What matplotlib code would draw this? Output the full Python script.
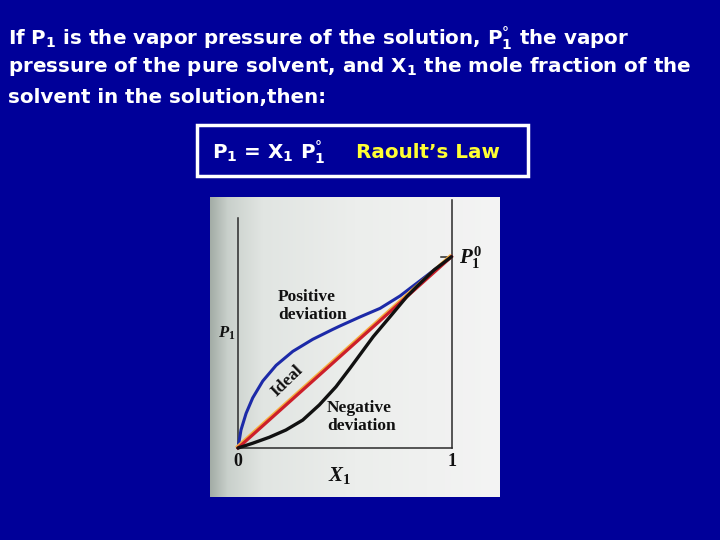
import numpy as np
import matplotlib
matplotlib.use("Agg")
import matplotlib.pyplot as plt
from matplotlib.patches import Rectangle
from matplotlib.colors import LinearSegmentedColormap
import matplotlib.transforms as mtrans

plt.rcParams['mathtext.fontset'] = 'custom'
plt.rcParams['mathtext.rm'] = 'DejaVu Sans:bold'
plt.rcParams['mathtext.it'] = 'Liberation Serif:italic:bold'
plt.rcParams['mathtext.bf'] = 'Liberation Serif:bold'

# ---- data (X1 vs P1/P1°) ----
pos_x = [0, 0.017, 0.046, 0.083, 0.138, 0.209, 0.295, 0.394, 0.49, 0.524, 0.615, 0.704, 0.79, 0.832, 0.875, 0.94, 1.0]
pos_y = [0, 0.094, 0.181, 0.262, 0.35, 0.432, 0.505, 0.568, 0.62, 0.638, 0.685, 0.73, 0.795, 0.835, 0.876, 0.94, 1.0]
neg_x = [0, 0.083, 0.173, 0.26, 0.345, 0.426, 0.505, 0.57, 0.674, 0.747, 0.818, 0.859, 0.93, 1.0]
neg_y = [0, 0.025, 0.056, 0.094, 0.146, 0.225, 0.32, 0.417, 0.582, 0.686, 0.791, 0.843, 0.93, 1.0]
ideal_x = [0, 1]
ideal_y = [0, 1]

BG = '#000099'
fig = plt.figure(figsize=(7.2, 5.4), dpi=100, facecolor=BG)

sans = 'DejaVu Sans'
serif = 'Liberation Serif'
HFS = 14.3

# ---- header text ----
hkw = dict(color='white', fontsize=HFS, fontweight='bold', family=sans, va='center', ha='left')
fig.text(8/720, 1 - 38/540, r"If P$_\mathregular{1}$ is the vapor pressure of the solution, P$_\mathregular{1}^\mathregular{°}$ the vapor", **hkw)
fig.text(8/720, 1 - 67/540, r"pressure of the pure solvent, and X$_\mathregular{1}$ the mole fraction of the", **hkw)
fig.text(8/720, 1 - 97/540, "solvent in the solution,then:", **hkw)

# ---- formula box ----
fig.patches.append(Rectangle((197/720, 1 - 176/540), (528-197)/720, (176-125)/540,
                             transform=fig.transFigure, facecolor='none',
                             edgecolor='white', linewidth=2.5))
fig.text(212/720, 1 - 152/540, r"P$_\mathregular{1}$ = X$_\mathregular{1}$ P$_\mathregular{1}^\mathregular{°}$", **hkw)
kw2 = dict(hkw); kw2['color'] = '#ffff33'
fig.text(356/720, 1 - 152/540, "Raoult\u2019s Law", **kw2)

# ---- inset (scanned figure) ----
L, R, T, B = 210, 500, 197, 497
rect = [L/720, 1 - B/540, (R-L)/720, (B-T)/540]

# paper background
axbg = fig.add_axes(rect, zorder=0)
axbg.axis('off')
grad = np.linspace(0, 1, 512)[None, :]
cm = LinearSegmentedColormap.from_list('paper', [(0, '#a3aca6'), (0.06, '#c9d0cb'), (0.18, '#e1e5e2'),
                                                 (0.5, '#eceeec'), (1.0, '#f4f4f4')])
axbg.imshow(grad, cmap=cm, aspect='auto', extent=[0, 1, 0, 1])
axbg.set_xlim(0, 1); axbg.set_ylim(0, 1)

ax = fig.add_axes(rect, zorder=1)
ax.patch.set_alpha(0)
ax.axis('off')

# the scanned page is warped near the binding: mimic with a mild non-linear x scale
A = 0.185
def fwd(x):
    x = np.asarray(x, dtype=float)
    return x - A * x * (1 - x)
def inv(u):
    u = np.asarray(u, dtype=float)
    return (-(1 - A) + np.sqrt((1 - A) ** 2 + 4 * A * u)) / (2 * A)
ax.set_xscale('function', functions=(fwd, inv))

x0, x1px, y0, y1px = 238, 451.5, 448, 256.7
sx = x1px - x0
sy = y0 - y1px
ax.set_xlim(inv((L - x0)/sx), inv((R - x0)/sx))
ax.set_ylim((y0 - B)/sy, (y0 - T)/sy)

def px(xp, yp):
    return (xp - L)/(R - L), (B - yp)/(B - T)

# frame lines
fc = '#2a2a2a'
ax.plot([0, 0], [0, (y0 - 218)/sy], color=fc, lw=1.1, zorder=2)
ax.plot([1, 1], [0, (y0 - 200)/sy], color=fc, lw=1.1, zorder=2)
ax.plot([0, 1], [0, 0], color=fc, lw=1.1, zorder=2)
ax.plot([px(441, 0)[0], px(452, 0)[0]], [px(0, 256.7)[1]] * 2, color=fc, lw=1.1, zorder=2,
        transform=ax.transAxes)

# curves
ax.plot(pos_x, pos_y, color='#1c2aa8', lw=2.2, zorder=3, solid_capstyle='round', solid_joinstyle='round')
off = mtrans.offset_copy(ax.transData, fig=fig, x=-1.0, y=1.0, units='points')
ax.plot(ideal_x, ideal_y, color='#f5b040', lw=1.5, zorder=3, transform=off)
ax.plot(ideal_x, ideal_y, color='#cc1f2a', lw=2.3, zorder=4)
ax.plot(neg_x, neg_y, color='#111111', lw=2.4, zorder=5, solid_capstyle='round', solid_joinstyle='round')

kw = dict(family=serif, fontweight='bold', color='#111111', zorder=6, transform=ax.transAxes)
ax.text(*px(238, 462), "0", fontsize=13, ha='center', va='center', **kw)
ax.text(*px(452, 462), "1", fontsize=13, ha='center', va='center', **kw)
ax.text(*px(340, 476), r"$\mathit{X}_{\mathbf{1}}$", fontsize=15, ha='center', va='center', **kw)
ax.text(*px(227, 333), r"$\mathit{P}_{\mathbf{1}}$", fontsize=12, ha='center', va='center', **kw)
ax.text(*px(459, 258), r"$\mathit{P}_{\mathbf{1}}^{\mathbf{0}}$", fontsize=15, ha='left', va='center', **kw)
ax.text(*px(278, 306), "Positive\ndeviation", fontsize=12.5, ha='left', va='center', linespacing=1.1, **kw)
ax.text(*px(327, 417), "Negative\ndeviation", fontsize=12.5, ha='left', va='center', linespacing=1.1, **kw)
ax.text(*px(287, 381), "Ideal", fontsize=12.5, ha='center', va='center', rotation=44, **kw)

fig.savefig('out.png', dpi=100, facecolor=BG)
